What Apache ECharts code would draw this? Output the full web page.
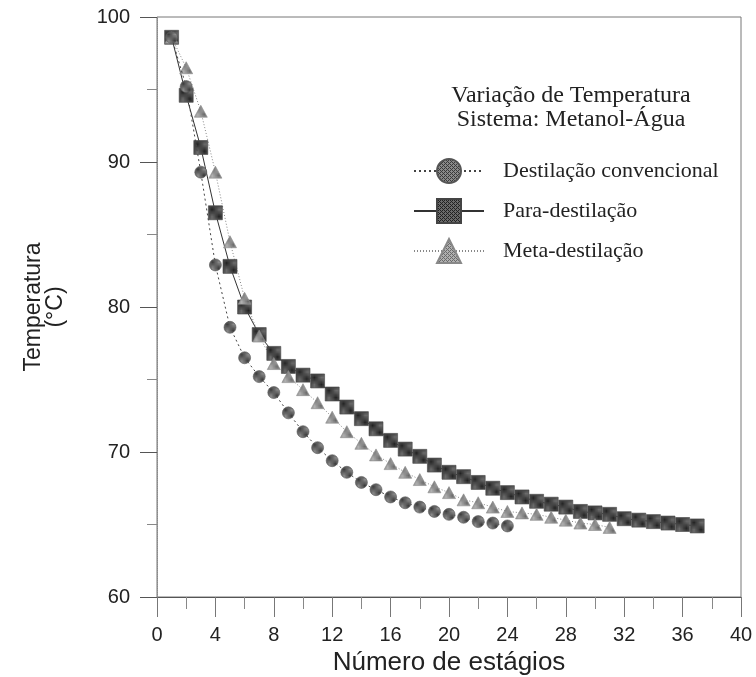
<!DOCTYPE html>
<html>
<head>
<meta charset="utf-8">
<script src="https://cdn.jsdelivr.net/npm/echarts@6/dist/echarts.min.js"></script>
<style>
  html, body { margin: 0; padding: 0; background: #fff; }
  #chart { width: 756px; height: 677px; }
</style>
</head>
<body>
<div id="chart"></div>
<script>
// Temperature per stage, methanol-water system
const convencional = [98.6, 95.2, 89.3, 82.9, 78.6, 76.5, 75.2, 74.1, 72.7, 71.4, 70.3, 69.4,
  68.6, 67.9, 67.4, 66.9, 66.5, 66.2, 65.9, 65.7, 65.5, 65.2, 65.1, 64.9];
const paraDestilacao = [98.6, 94.6, 91.0, 86.5, 82.8, 80.0, 78.1, 76.8, 75.9, 75.3, 74.9, 74.0,
  73.1, 72.3, 71.6, 70.8, 70.2, 69.7, 69.1, 68.6, 68.3, 67.9, 67.5, 67.2, 66.9, 66.6, 66.4,
  66.2, 65.9, 65.8, 65.7, 65.4, 65.3, 65.2, 65.1, 65.0, 64.9];
const metaDestilacao = [98.6, 96.5, 93.5, 89.3, 84.5, 80.6, 78.0, 76.1, 75.2, 74.3, 73.4, 72.4,
  71.4, 70.6, 69.8, 69.2, 68.6, 68.1, 67.6, 67.2, 66.7, 66.5, 66.2, 65.9, 65.8, 65.7, 65.5,
  65.3, 65.1, 65.0, 64.8];
const seriesNames = ['Destilação convencional', 'Para-destilação', 'Meta-destilação'];

// stage numbers start at 1
const toPairs = arr => arr.map((v, i) => [i + 1, v]);

// small hatched tile used as the marker fill
function hatch(base, dark) {
  const c = document.createElement('canvas');
  c.width = 4; c.height = 4;
  const g = c.getContext('2d');
  g.fillStyle = base; g.fillRect(0, 0, 4, 4);
  g.fillStyle = dark;
  g.fillRect(0, 0, 1, 1); g.fillRect(1, 1, 1, 1); g.fillRect(2, 2, 1, 1); g.fillRect(3, 3, 1, 1);
  g.fillRect(2, 0, 1, 1); g.fillRect(0, 2, 1, 1);
  return { image: c, repeat: 'repeat' };
}

const sans = '"Liberation Sans", Arial, sans-serif';
const serif = '"Liberation Serif", "Times New Roman", serif';

const chart = echarts.init(document.getElementById('chart'), null, { renderer: 'canvas' });
chart.setOption({
  animation: false,
  backgroundColor: '#fff',
  grid: {
    left: 157, right: 15, top: 17, bottom: 80,
    containLabel: false, outerBoundsMode: 'none',
    show: true, borderColor: '#777', borderWidth: 1, backgroundColor: 'transparent'
  },
  title: {
    text: 'Variação de Temperatura\nSistema: Metanol-Água',
    left: 566, top: 79, textAlign: 'center',
    textStyle: { fontFamily: serif, fontSize: 24, fontWeight: 'normal', color: '#222', lineHeight: 24 }
  },
  legend: {
    orient: 'vertical',
    left: 408, top: 153,
    itemWidth: 70, itemHeight: 30, itemGap: 14,
    textStyle: { fontFamily: serif, fontSize: 22, color: '#222', padding: [0, 0, 0, 14] },
    data: seriesNames
  },
  xAxis: {
    type: 'value', min: 0, max: 40, interval: 4,
    name: 'Número de estágios', nameLocation: 'middle', nameGap: 50,
    nameTextStyle: { fontFamily: sans, fontSize: 26, color: '#222' },
    axisLine: { onZero: false, lineStyle: { color: '#555', width: 1 } },
    axisTick: { show: true, inside: false, length: 20, lineStyle: { color: '#777' } },
    minorTick: { show: true, splitNumber: 2, length: 12, lineStyle: { color: '#888' } },
    axisLabel: { fontFamily: sans, fontSize: 20, color: '#222', margin: 28 },
    splitLine: { show: false }
  },
  yAxis: {
    type: 'value', min: 60, max: 100, interval: 10,
    name: 'Temperatura\n(°C)', nameLocation: 'middle', nameGap: 90, nameRotate: 90,
    nameTextStyle: { fontFamily: sans, fontSize: 23, color: '#222', lineHeight: 22 },
    axisLine: { onZero: false, lineStyle: { color: '#888', width: 1, type: 'dotted' } },
    axisTick: { show: true, inside: false, length: 17, lineStyle: { color: '#555' } },
    minorTick: { show: true, splitNumber: 2, length: 10, lineStyle: { color: '#888' } },
    axisLabel: { fontFamily: sans, fontSize: 20, color: '#222', margin: 27 },
    splitLine: { show: false }
  },
  series: [
    {
      name: seriesNames[0], type: 'line', data: toPairs(convencional), z: 3,
      symbol: 'circle', symbolSize: 12,
      lineStyle: { color: '#444', width: 1, type: [2, 3] },
      itemStyle: { color: hatch('#8a8a8a', '#3a3a3a'), borderColor: '#555', borderWidth: 0.6 }
    },
    {
      name: seriesNames[1], type: 'line', data: toPairs(paraDestilacao), z: 2,
      symbol: 'rect', symbolSize: 14,
      lineStyle: { color: '#333', width: 1, type: 'solid' },
      itemStyle: { color: hatch('#6a6a6a', '#222'), borderColor: '#444', borderWidth: 0.6 }
    },
    {
      name: seriesNames[2], type: 'line', data: toPairs(metaDestilacao), z: 2,
      symbol: 'triangle', symbolSize: [13, 12],
      lineStyle: { color: '#888', width: 1, type: [1, 2] },
      itemStyle: { color: hatch('#b0b0b0', '#6a6a6a'), borderColor: '#888', borderWidth: 0.6 }
    }
  ]
});
</script>
</body>
</html>
